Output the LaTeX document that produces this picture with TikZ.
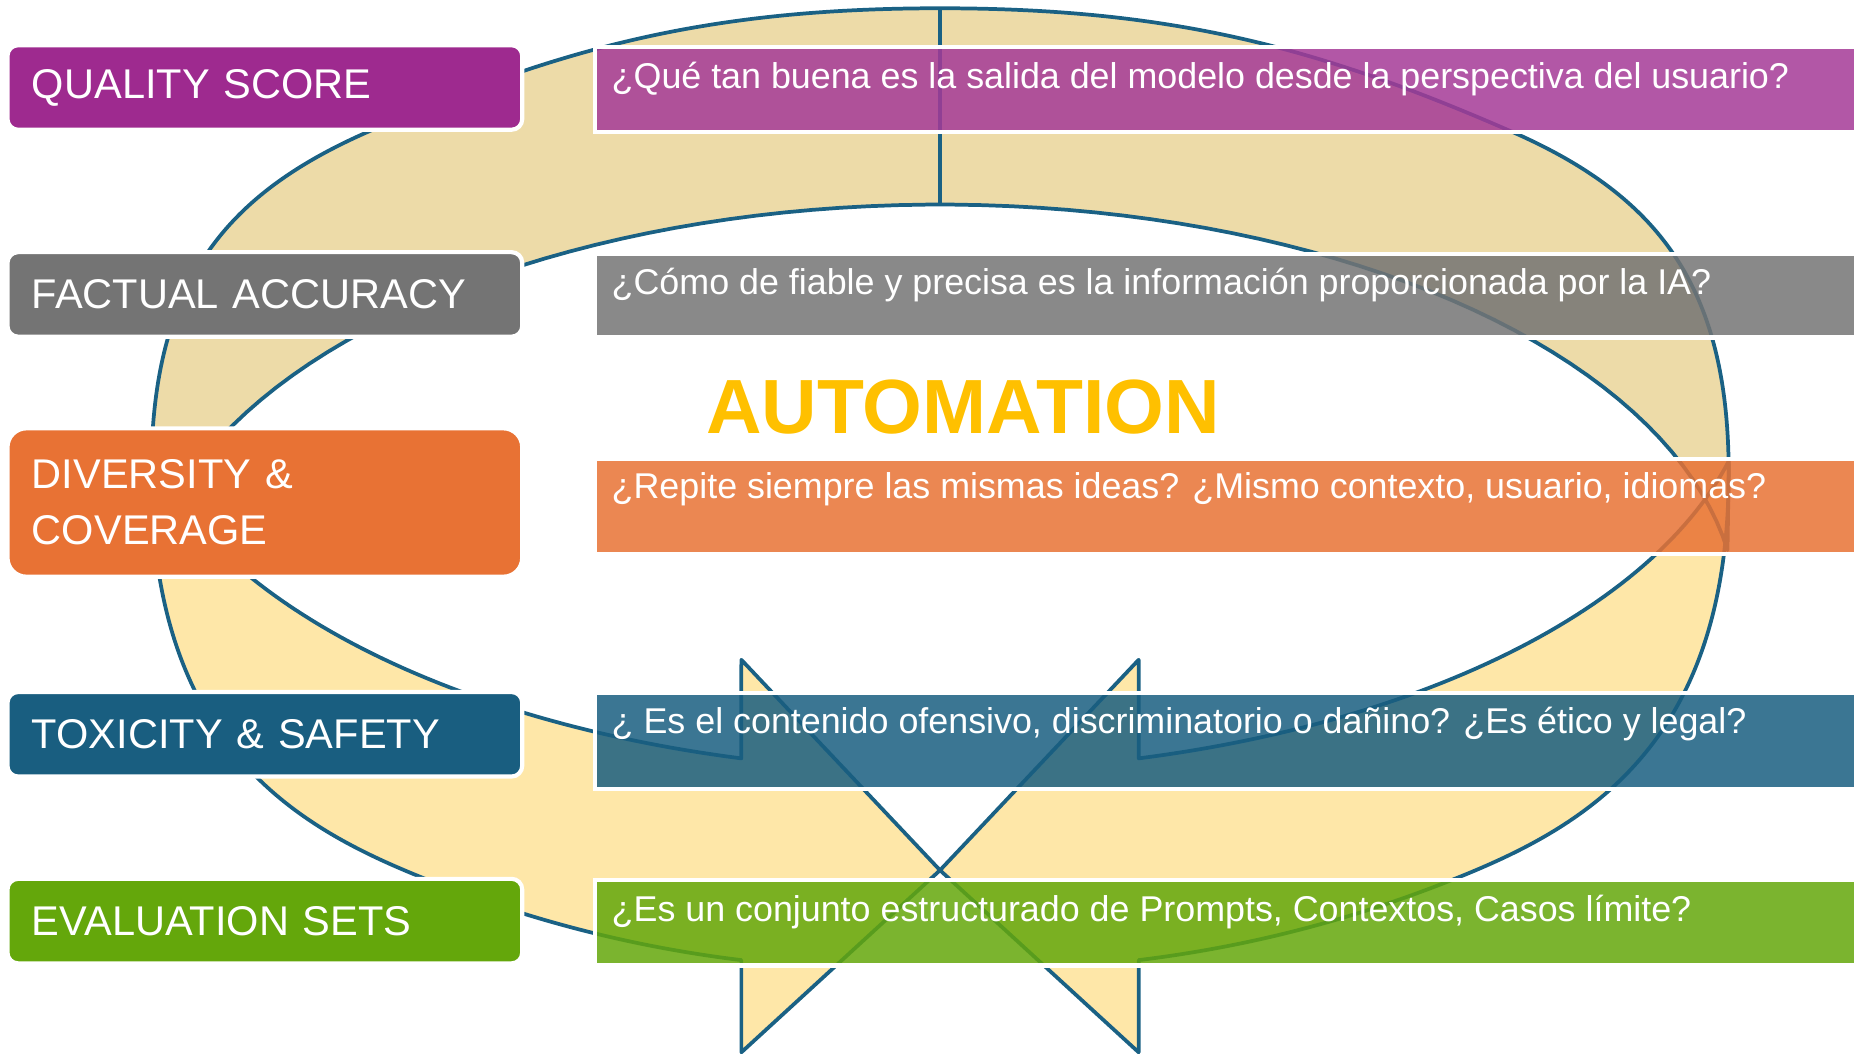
\documentclass[tikz,border=0pt]{standalone}
\usepackage{fontspec}
\setmainfont{Liberation Sans}
\usetikzlibrary{calc}

\definecolor{qualcol}{HTML}{9E2A8F}
\definecolor{qualbar}{HTML}{A53A97}
\definecolor{factcol}{HTML}{747474}
\definecolor{divcol}{HTML}{E87234}
\definecolor{toxcol}{HTML}{195E80}
\definecolor{evalcol}{HTML}{64A70B}
\definecolor{ringline}{HTML}{1A6184}
\definecolor{ringtan}{HTML}{EDDBA8}
\definecolor{ringyel}{HTML}{FEE7A8}
\definecolor{autocol}{HTML}{FFC000}

\tikzset{
  ring/.style={draw=ringline, line width=1.8pt, line join=round},
  tag/.style={draw=white, line width=2pt, rounded corners=.18cm, text=white,
    text width=7.88cm, inner xsep=.414cm, inner ysep=0pt, align=left,
    minimum height=1.43cm, font=\fontsize{20}{27}\selectfont},
  qbar/.style={draw=white, line width=2pt, fill opacity=.85,
    minimum width=21.6cm, anchor=north west, inner sep=0pt},
  qtext/.style={text=white, anchor=base west, inner sep=0pt,
    font=\fontsize{17.25}{20}\selectfont},
}

% upper half of the ring (two halves meeting at the seam)
\newcommand\upperband[1]{%
  \path[#1] (129,465) -- (128,400)
    .. controls (128,240) and (190,165) .. (310,112)
    .. controls (470,42) and (595,7) .. (795,7)
    .. controls (995,7) and (1120,42) .. (1280,112)
    .. controls (1400,165) and (1462,240) .. (1462,400) -- (1461,465)
    -- plot[domain=9.1:170.9, samples=80, variable=\t]
       ({795+674.5*cos(\t)}, {520-347*sin(\t)})
    -- cycle;}

% lower half of the ring, left side (arrow into the bottom)
\newcommand\lowerarrow[1]{%
  \path[#1] (128,390) -- (128,400)
    .. controls (128,630) and (249,699) .. (359,743)
    .. controls (449,779) and (537,801) .. (627,812)
    -- (627,890) -- (795,736) -- (627,558)
    -- plot[domain=255.9:194.8, samples=60, variable=\t]
       ({795+690*cos(\t)}, {300-352*sin(\t)})
    -- cycle;}

\begin{document}
\begin{tikzpicture}[x=.02cm, y=-.02cm]
  \useasboundingbox (0,0) rectangle (1568,891);

  % the ring: fills first, outlines on top
  \upperband{fill=ringtan}
  \lowerarrow{fill=ringyel}
  \begin{scope}[shift={(1590,0)}, xscale=-1]
    \lowerarrow{fill=ringyel}
  \end{scope}
  \upperband{ring}
  \lowerarrow{ring}
  \begin{scope}[shift={(1590,0)}, xscale=-1]
    \lowerarrow{ring}
  \end{scope}
  \draw[ring] (795,7) -- (795,173);

  % question bars
  \node[qbar, fill=qualbar, minimum height=1.43cm] (qualq) at (501.25,38.25) {};
  \node[qbar, fill=factcol, minimum height=1.41cm] (factq) at (501.25,213.25) {};
  \node[qbar, fill=divcol, minimum height=1.61cm] (divq) at (501.25,386.25) {};
  \node[qbar, fill=toxcol, minimum height=1.63cm] (toxq) at (501.25,584.25) {};
  \node[qbar, fill=evalcol, minimum height=1.45cm] (evalq) at (501.25,742.25) {};

  \node[qtext] (qualt) at ($(qualq.north west)+(15.75,36.75)$)
    {¿Qué tan buena es la salida del modelo desde la perspectiva del usuario?};
  \node[qtext] (factt) at ($(factq.north west)+(15.75,36)$)
    {¿Cómo de fiable y precisa es la información proporcionada por la IA?};
  \node[qtext] (divt) at ($(divq.north west)+(15.75,35.5)$)
    {¿Repite siempre las mismas ideas? ¿Mismo contexto, usuario, idiomas?};
  \node[qtext] (toxt) at ($(toxq.north west)+(15.75,36.5)$)
    {¿ Es el contenido ofensivo, discriminatorio o dañino? ¿Es ético y legal?};
  \node[qtext] (evalt) at ($(evalq.north west)+(15.75,37)$)
    {¿Es un conjunto estructurado de Prompts, Contextos, Casos límite?};

  % metric labels
  \node[tag, fill=qualcol] (qual) at (224,74) {QUALITY SCORE};
  \node[tag, fill=factcol] (fact) at (224,249) {FACTUAL ACCURACY};
  \node[tag, fill=divcol, minimum height=2.51cm, rounded corners=.32cm] (div)
    at (224,425) {DIVERSITY \&\\COVERAGE};
  \node[tag, fill=toxcol] (tox) at (224,621) {TOXICITY \& SAFETY};
  \node[tag, fill=evalcol] (eval) at (224,779) {EVALUATION SETS};

  \node[anchor=base west, inner sep=0pt, text=autocol,
    font=\fontsize{37}{40}\selectfont\bfseries] (auto) at (597,367)
    {AUTOMATION};
\end{tikzpicture}
\end{document}
